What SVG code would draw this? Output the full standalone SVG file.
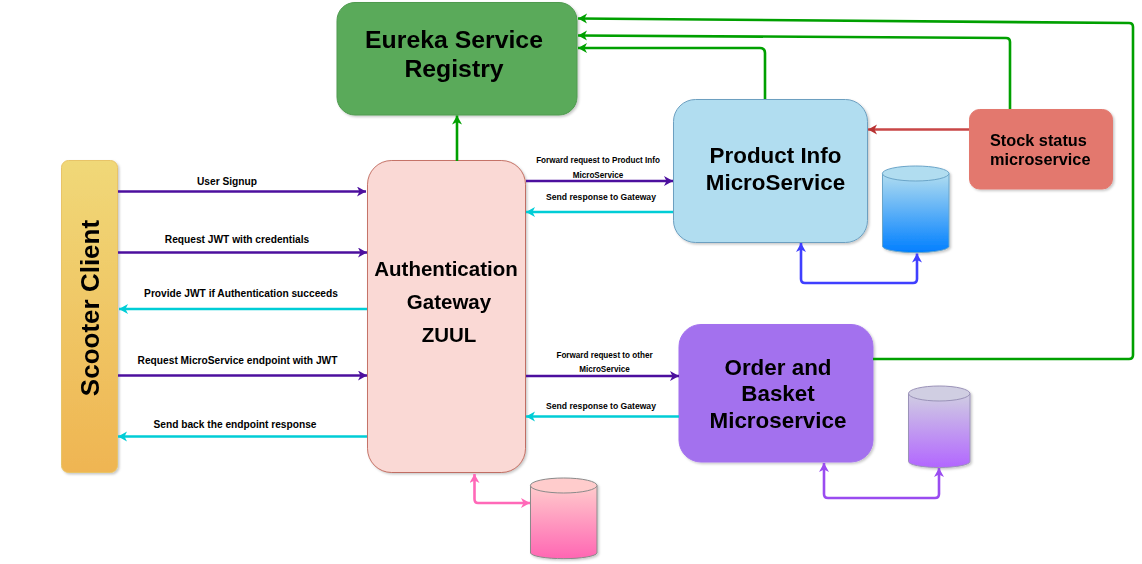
<svg xmlns="http://www.w3.org/2000/svg" width="1142" height="564" viewBox="0 0 1142 564">
<style>
text{font-family:"Liberation Sans",Arial,sans-serif;font-weight:bold;fill:#000;text-anchor:middle}
.big{font-size:24.800px}
.gw{font-size:20.500px}
.l{font-size:10.200px}
.s{font-size:8.600px}
.f{font-size:8.150px}
.c{fill:none;stroke-width:2.600}
.g{stroke:#00a000}.p{stroke:#4c0f9e}.t{stroke:#00cdd6}
.node{filter:url(#sh)}
</style>
<defs>
<filter id="sh" x="-5%" y="-5%" width="112%" height="112%"><feDropShadow dx="1.5" dy="1.5" stdDeviation="1.2" flood-color="#000" flood-opacity=".22"/></filter>
<linearGradient id="gc" x1="0" y1="0" x2="0" y2="1"><stop offset="0" stop-color="#f0d878"/><stop offset="1" stop-color="#efb552"/></linearGradient>
<linearGradient id="gb" x1="0" y1="0" x2="0" y2="1"><stop offset="0" stop-color="#b1ddf0"/><stop offset="1" stop-color="#007fff"/></linearGradient>
<linearGradient id="gv" x1="0" y1="0" x2="0" y2="1"><stop offset="0" stop-color="#d0cee2"/><stop offset="1" stop-color="#b266ff"/></linearGradient>
<linearGradient id="gp" x1="0" y1="0" x2="0" y2="1"><stop offset="0" stop-color="#ffcccc"/><stop offset="1" stop-color="#ff66b3"/></linearGradient>
<marker id="mg" markerUnits="userSpaceOnUse" markerWidth="12" markerHeight="12" refX="9" refY="5" orient="auto-start-reverse"><path d="M0 0L9 5L0 10L2.500 5z" fill="#00a000"/></marker>
<marker id="mp" markerUnits="userSpaceOnUse" markerWidth="12" markerHeight="12" refX="9" refY="5" orient="auto-start-reverse"><path d="M0 0L9 5L0 10L2.500 5z" fill="#4c0f9e"/></marker>
<marker id="mt" markerUnits="userSpaceOnUse" markerWidth="12" markerHeight="12" refX="9" refY="5" orient="auto-start-reverse"><path d="M0 0L9 5L0 10L2.500 5z" fill="#00cdd6"/></marker>
<marker id="mr" markerUnits="userSpaceOnUse" markerWidth="12" markerHeight="12" refX="9" refY="5" orient="auto-start-reverse"><path d="M0 0L9 5L0 10L2.500 5z" fill="#b83232"/></marker>
<marker id="mb" markerUnits="userSpaceOnUse" markerWidth="12" markerHeight="12" refX="9" refY="5" orient="auto-start-reverse"><path d="M0 0L9 5L0 10L2.500 5z" fill="#3f3fff"/></marker>
<marker id="mv" markerUnits="userSpaceOnUse" markerWidth="12" markerHeight="12" refX="9" refY="5" orient="auto-start-reverse"><path d="M0 0L9 5L0 10L2.500 5z" fill="#9a4cf0"/></marker>
<marker id="mk" markerUnits="userSpaceOnUse" markerWidth="12" markerHeight="12" refX="9" refY="5" orient="auto-start-reverse"><path d="M0 0L9 5L0 10L2.500 5z" fill="#ff69b8"/></marker>
</defs>
<g id="eureka" class="node"><rect x="337" y="2.500" width="240" height="112.500" rx="18" fill="#5aaa5a" stroke="#4f9a4f"/><text class="big" x="454" y="47.500">Eureka Service</text><text class="big" x="454" y="77">Registry</text></g>
<g id="client" class="node"><rect x="61.500" y="160.500" width="56" height="312" rx="7" fill="url(#gc)" stroke="#e8c468"/><text transform="translate(99,308) rotate(-90)" style="font-size:26px">Scooter Client</text></g>
<g id="gateway" class="node"><rect x="367.500" y="160.500" width="158" height="312" rx="24" fill="#fad9d5" stroke="#ae4132" stroke-opacity=".7"/><text class="gw" x="446" y="275.500">Authentication</text><text class="gw" x="449" y="308.500">Gateway</text><text class="gw" x="449" y="341.500">ZUUL</text></g>
<g id="product" class="node"><rect x="673.500" y="99.500" width="194" height="143" rx="22" fill="#b1ddf0" stroke="#6c9fc0"/><text x="775.500" y="163" style="font-size:22.400px">Product Info</text><text x="775.500" y="189.500" style="font-size:22.400px">MicroService</text></g>
<g id="order" class="node"><rect x="679" y="324.500" width="194" height="137.500" rx="22" fill="#a371ee" stroke="#a371ee"/><text x="778" y="374.500" style="font-size:22.400px">Order and</text><text x="778" y="401" style="font-size:22.400px">Basket</text><text x="778" y="427.500" style="font-size:22.400px">Microservice</text></g>
<g id="stock" class="node"><rect x="969.500" y="109.500" width="143" height="79.500" rx="10" fill="#e3786e" stroke="#e3786e"/><text x="990" y="145.500" style="font-size:16.300px;text-anchor:start">Stock status</text><text x="990" y="165" style="font-size:16.300px;text-anchor:start">microservice</text></g>
<g id="db-product" class="node"><path d="M882.500 173.500V246.500A33.300 6.500 0 0 0 949 246.500V173.500Z" fill="url(#gb)" stroke="#6ba5c9"/><ellipse cx="915.700" cy="173.500" rx="33.300" ry="7.500" fill="#b1ddf0" stroke="#6ba5c9"/></g>
<g id="db-order" class="node"><path d="M908.500 393.500V461.500A30.700 6 0 0 0 970 461.500V393.500Z" fill="url(#gv)" stroke="#9a92b8"/><ellipse cx="939.200" cy="393.500" rx="30.700" ry="7.500" fill="#d0cee2" stroke="#9a92b8"/></g>
<g id="db-gateway" class="node"><path d="M530.500 485.500V553A33.300 6 0 0 0 597 553V485.500Z" fill="url(#gp)" stroke="#8a8a8a"/><ellipse cx="563.700" cy="485.500" rx="33.300" ry="7.500" fill="#ffcccc" stroke="#8a8a8a"/></g>
<g id="connectors">
<path class="c g" d="M457 161V115.500" marker-end="url(#mg)"/>
<path class="c g" d="M765 99V53Q765 48 760 48H578" marker-end="url(#mg)"/>
<path class="c g" d="M1010 109V42Q1010 38 1006 38L578 35.500" marker-end="url(#mg)"/>
<path class="c g" d="M873 359H1129Q1133 359 1133 355V27Q1133 23 1129 23L578 18.500" marker-end="url(#mg)"/>
<path class="c p" d="M118 191.500H366" marker-end="url(#mp)"/>
<path class="c p" d="M118 252.500H367" marker-end="url(#mp)"/>
<path class="c t" d="M367 309H119" marker-end="url(#mt)"/>
<path class="c p" d="M118 375.500H367" marker-end="url(#mp)"/>
<path class="c t" d="M367 436.500H118" marker-end="url(#mt)"/>
<path class="c p" d="M526 181H673" marker-end="url(#mp)"/>
<path class="c t" d="M673 212H526" marker-end="url(#mt)"/>
<path class="c p" d="M526 376H679" marker-end="url(#mp)"/>
<path class="c t" d="M679 416.500H526" marker-end="url(#mt)"/>
<path class="c" stroke="#c84646" d="M969 129.500H868" marker-end="url(#mr)"/>
<path class="c" stroke="#3f3fff" d="M801 243V279Q801 283 805 283H913Q917 283 917 279V253.500" marker-start="url(#mb)" marker-end="url(#mb)"/>
<path class="c" stroke="#9a4cf0" d="M824 463V494Q824 498 828 498H935Q939 498 939 494V468" marker-start="url(#mv)" marker-end="url(#mv)"/>
<path class="c" stroke="#ff69b8" d="M474.500 474V499Q474.500 503 478 503H530" marker-start="url(#mk)" marker-end="url(#mk)"/>
</g>
<g id="labels">
<text class="l" x="227" y="184.500">User Signup</text>
<text class="l" x="237" y="243">Request JWT with credentials</text>
<text class="l" x="241" y="297">Provide JWT if Authentication succeeds</text>
<text class="l" x="237.500" y="363.500">Request MicroService endpoint with JWT</text>
<text class="l" x="235" y="427.500">Send back the endpoint response</text>
<text class="f" x="598" y="163">Forward request to Product Info</text>
<text class="f" x="598" y="177.500">MicroService</text>
<text class="s" x="601" y="199.500">Send response to Gateway</text>
<text class="f" x="604.500" y="357.500">Forward request to other</text>
<text class="f" x="604.500" y="371.500">MicroService</text>
<text class="s" x="601" y="408.500">Send response to Gateway</text>
</g>
</svg>
